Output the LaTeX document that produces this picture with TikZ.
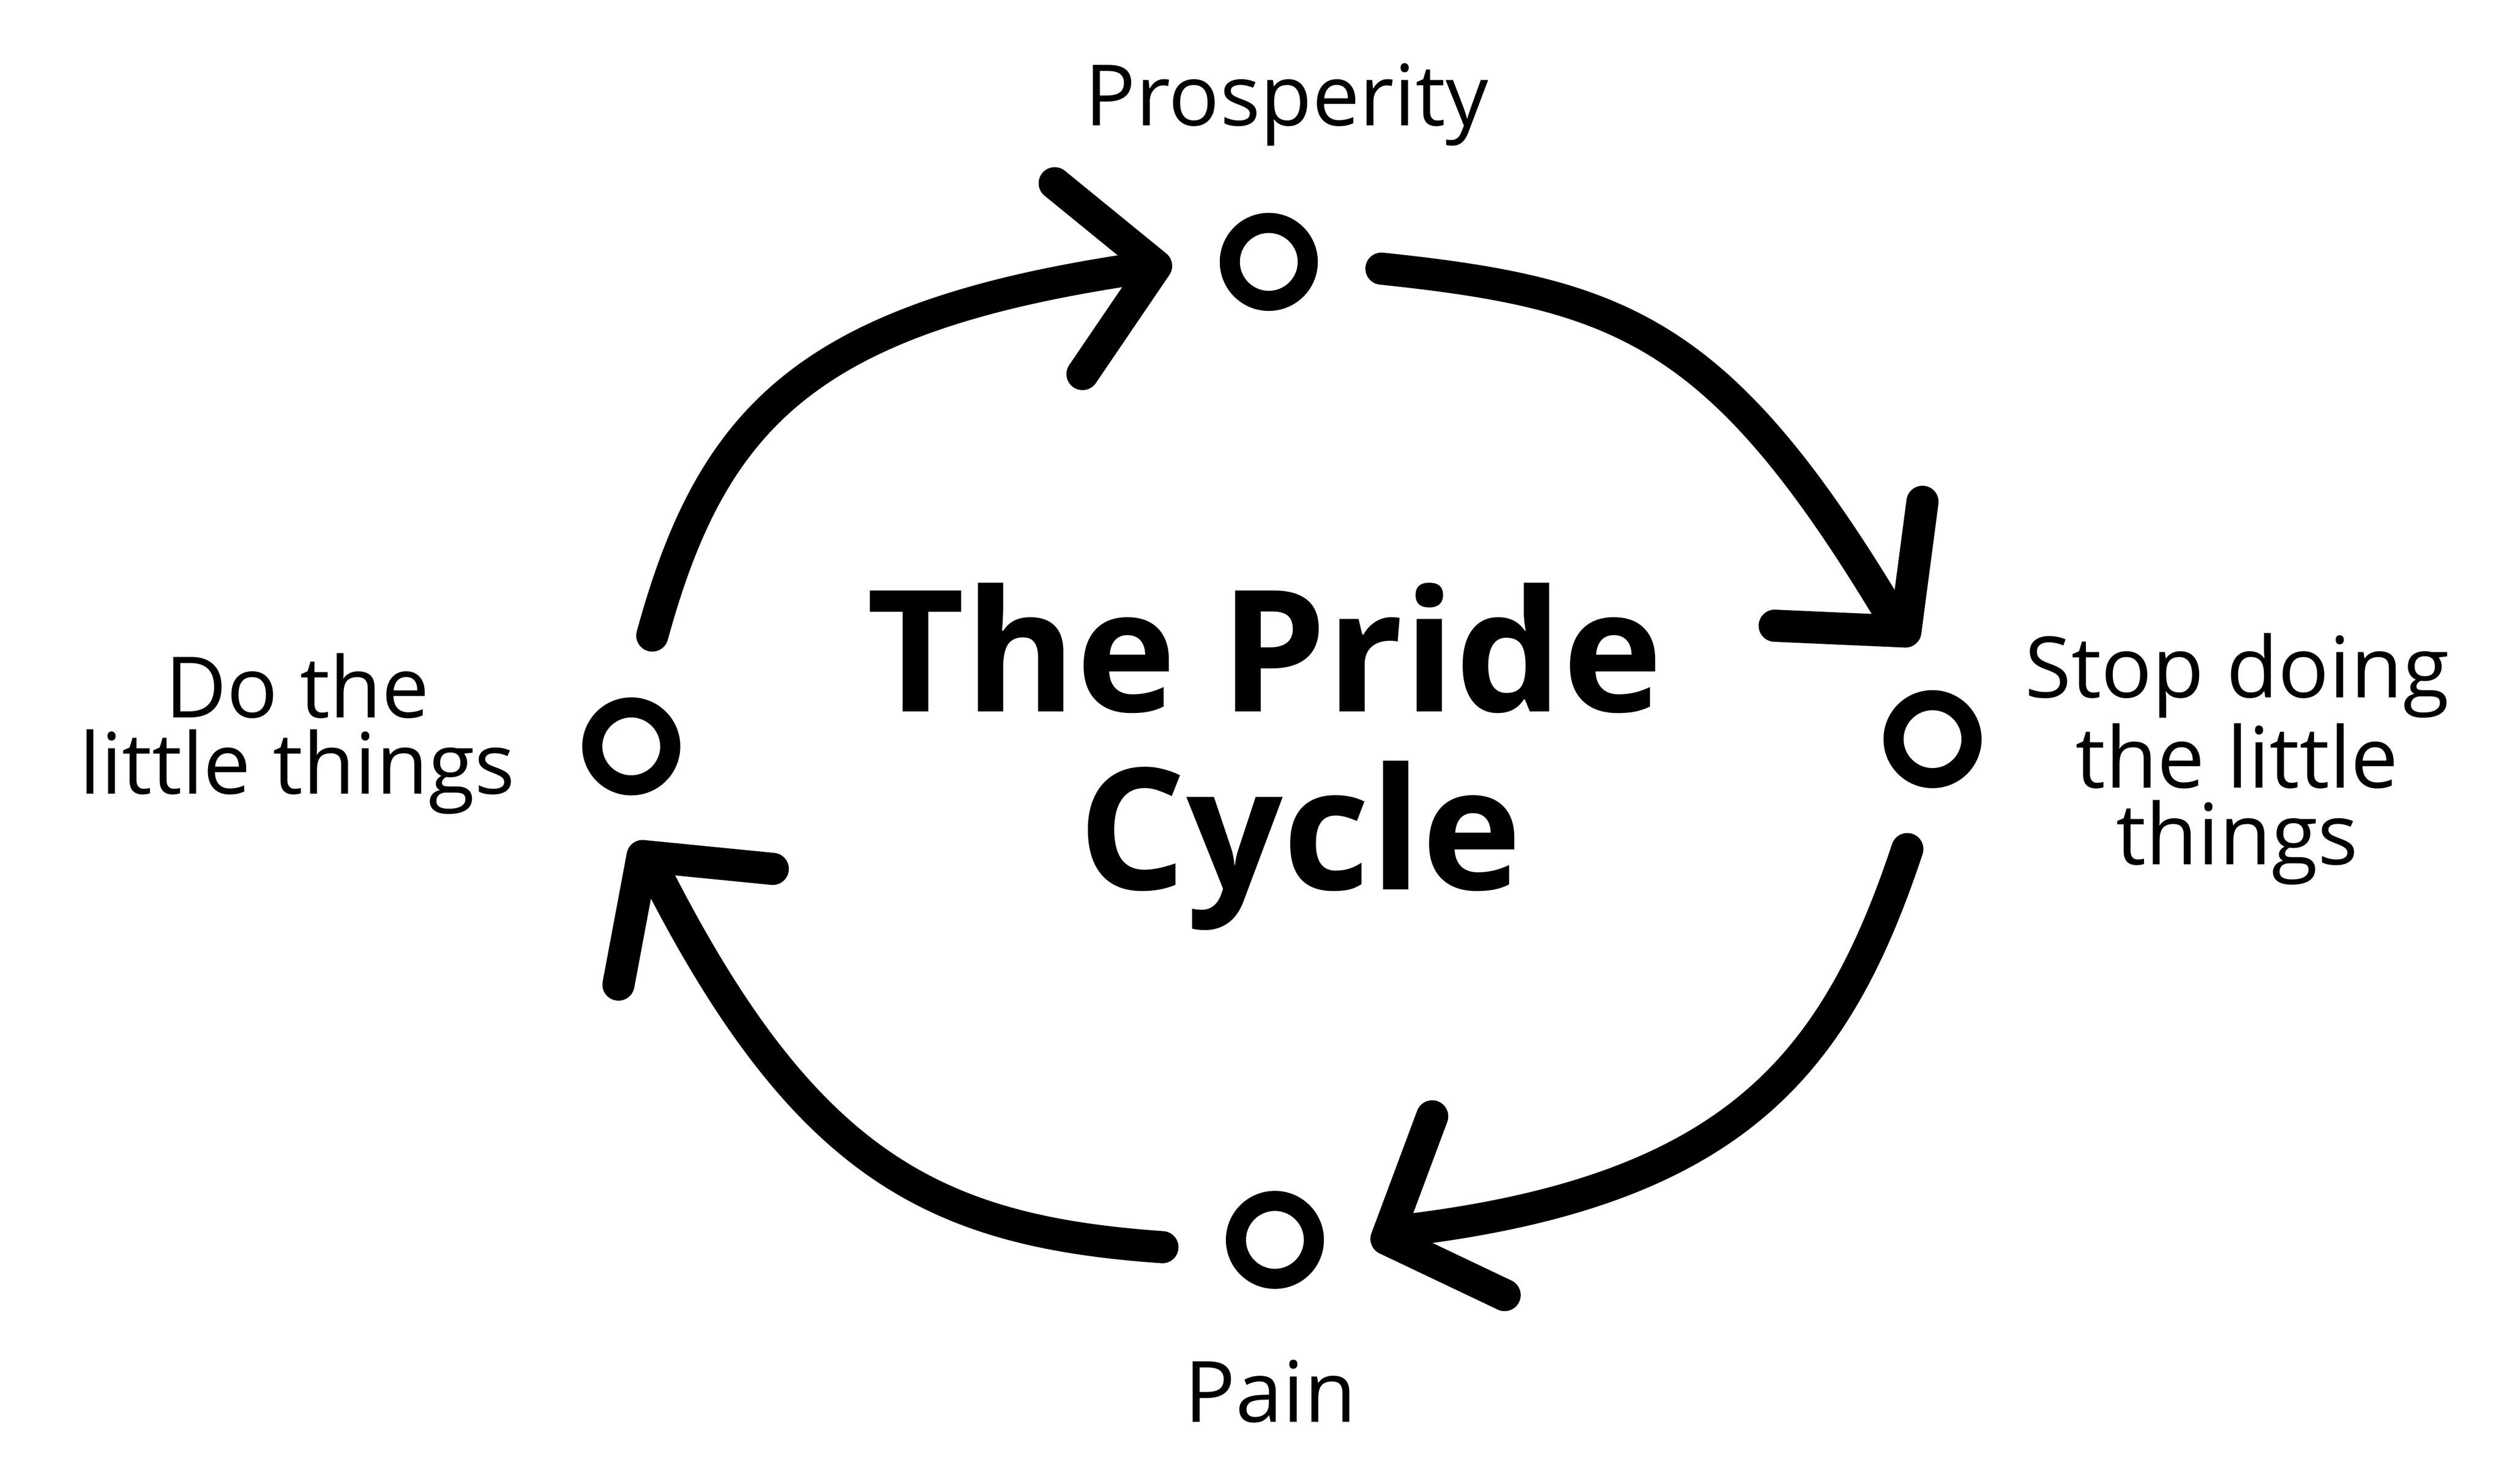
\documentclass[tikz,border=0pt]{standalone}
\usepackage{fontspec}
\setmainfont{Open Sans}
\usetikzlibrary{arrows.meta,calc}

\def\bogen#1#2#3#4#5{
	\draw[bogen] #1 .. controls +#2 and +#3 .. ($#4+#5$) -- #4;
}

\begin{document}
\begin{tikzpicture}[
	ring/.style={circle,draw,line width=0.125cm,minimum size=0.485cm,inner sep=0pt,outer sep=0.36cm},
	bogen/.style={line width=0.2cm,line cap=round,line join=round,shorten <=0.1cm,-{Straight Barb[length=0.55cm,width=1.2cm,round]}},
	etikett/.style={font=\fontsize{15}{13.5}\selectfont,align=center,anchor=base}]
\useasboundingbox (0,0) rectangle (15.6,9.233);
\node[ring] (pros) at (7.895,7.603) {};
\node[ring] (stop) at (12.025,4.633) {};
\node[ring] (pain) at (7.933,1.517) {};
\node[ring] (do) at (3.928,4.588) {};
\bogen{(pros.-3)}{(1.591,-0.167)}{(-1.056,1.757)}{(stop.100)}{(-0.161,0.192)}
\bogen{(stop.258)}{(-0.474,-1.424)}{(2.036,0.250)}{(pain.-3)}{(0.232,0.094)}
\bogen{(pain.185)}{(-1.497,0.105)}{(0.931,-1.827)}{(do.271)}{(0.150,-0.200)}
\bogen{(do.80)}{(0.396,1.447)}{(-2.028,-0.304)}{(pros.181)}{(-0.247,-0.036)}
\node[etikett] (tpros) at (8.006,8.45) {Prosperity};
\node[etikett] (tstop) at (13.92,3.854) {Stop doing\\the little\\things};
\node[etikett] (tpain) at (7.906,0.383) {Pain};
\node[etikett] (tdo) at (1.85,4.293) {Do the\\little things};
\node[etikett,font=\bfseries\fontsize{30}{31.5}\selectfont] (titel) at (7.87,3.696) {The Pride\\\hspace*{0.44cm}Cycle};
\end{tikzpicture}
\end{document}
